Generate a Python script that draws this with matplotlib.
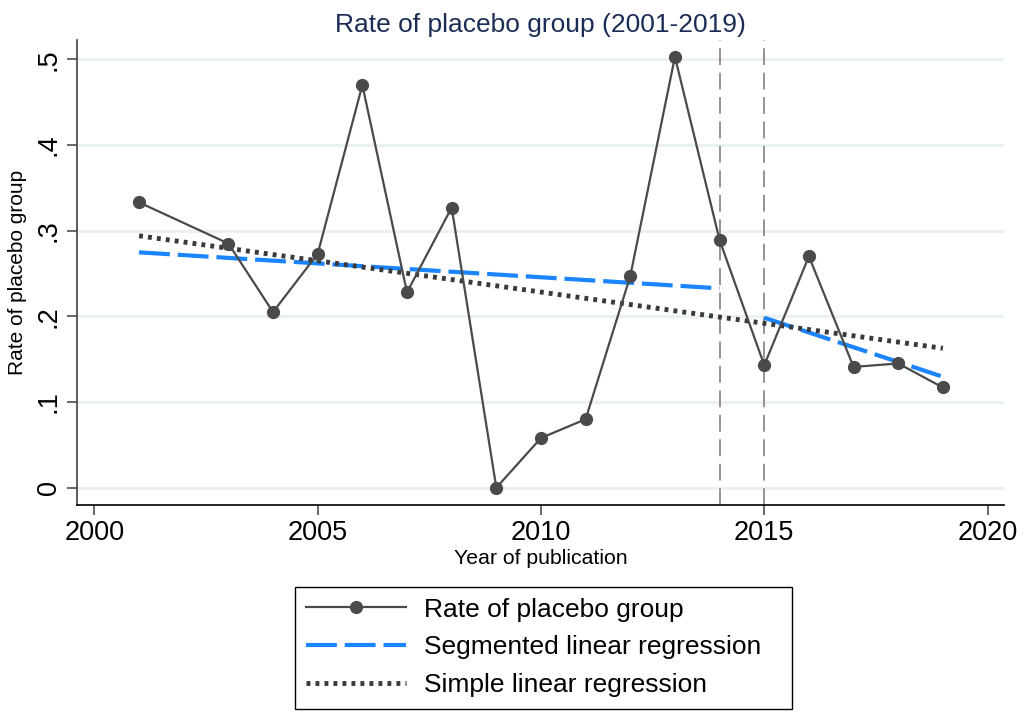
import matplotlib
matplotlib.use("Agg")
import matplotlib.pyplot as plt
from matplotlib.patches import Rectangle

plt.rcParams['font.family'] = ['Liberation Sans', 'DejaVu Sans']

years = [2001, 2003, 2004, 2005, 2006, 2007, 2008, 2009, 2010, 2011,
         2012, 2013, 2014, 2015, 2016, 2017, 2018, 2019]
rates = [0.333, 0.285, 0.205, 0.273, 0.470, 0.228, 0.327, 0.000, 0.058, 0.080,
         0.247, 0.503, 0.289, 0.143, 0.270, 0.141, 0.145, 0.117]

seg1_x = [2001, 2014]
seg1_y = [0.2747, 0.2327]
seg2_x = [2015, 2019]
seg2_y = [0.1984, 0.1295]

simple_x = [2001, 2019]
simple_y = [0.294, 0.1627]

breaks = [2014, 2015]

x_ticks = [2000, 2005, 2010, 2015, 2020]
y_ticks = [0, 0.1, 0.2, 0.3, 0.4, 0.5]
y_tick_labels = ["0", ".1", ".2", ".3", ".4", ".5"]

fig = plt.figure(figsize=(10.28, 7.11), dpi=100)
ax = fig.add_axes([0.0749, 0.2897, 0.9018, 0.654])

for yv in y_ticks:
    ax.axhline(yv, color='#eaf1f3', lw=2.2, zorder=0)

for b in breaks:
    ax.axvline(b, color='#777777', lw=1.1, dashes=(11, 5), zorder=1)

l1, = ax.plot(years, rates, color='#4a4a4a', lw=1.6, marker='o', markersize=8.5,
              label='Rate of placebo group', zorder=4)
l2, = ax.plot(seg1_x, seg1_y, color='#1a85ff', lw=3, dashes=(7.4, 1.9),
              label='Segmented linear regression', zorder=3)
ax.plot(seg2_x, seg2_y, color='#1a85ff', lw=3, dashes=(7.4, 1.9), zorder=3)
l3, = ax.plot(simple_x, simple_y, color='#3a3a3a', lw=3.5, dashes=(0.8, 1.05),
              label='Simple linear regression', zorder=3)

ax.set_xlim(1999.61, 2020.37)
ax.set_ylim(-0.0202, 0.5225)
ax.set_xticks(x_ticks)
ax.set_xticklabels([str(x) for x in x_ticks], fontsize=19.5)
ax.set_yticks(y_ticks)
ax.set_yticklabels(y_tick_labels, fontsize=19.5, rotation=90, va='center')

for s in ['top', 'right']:
    ax.spines[s].set_visible(False)
ax.spines['left'].set_color('#404040')
ax.spines['bottom'].set_color('#000000')
ax.spines['left'].set_linewidth(1.2)
ax.spines['bottom'].set_linewidth(1.2)
ax.tick_params(axis='both', length=7, width=1.1, color='#404040', pad=4)

ax.set_xlabel('Year of publication', fontsize=15.3, labelpad=2)
ax.set_ylabel('Rate of placebo group', fontsize=15, labelpad=6)
ax.set_title('Rate of placebo group (2001-2019)', fontsize=19, color='#1c2d55', pad=6)

# legend frame (Stata-style, extra room on the right)
fig.patches.append(Rectangle((295 / 1028, 1 - 709 / 711), 497 / 1028, 122 / 711,
                             transform=fig.transFigure, fill=False,
                             edgecolor='#000000', lw=1.0))

leg = fig.legend(handles=[l1, l2, l3], loc='upper left',
                 bbox_to_anchor=(295 / 1028, 1 - 587 / 711), bbox_transform=fig.transFigure,
                 fontsize=19, frameon=False,
                 handlelength=3.8, handletextpad=0.68, labelspacing=0.52,
                 borderpad=0.4, borderaxespad=0)

fig.savefig('out.png', dpi=100)
